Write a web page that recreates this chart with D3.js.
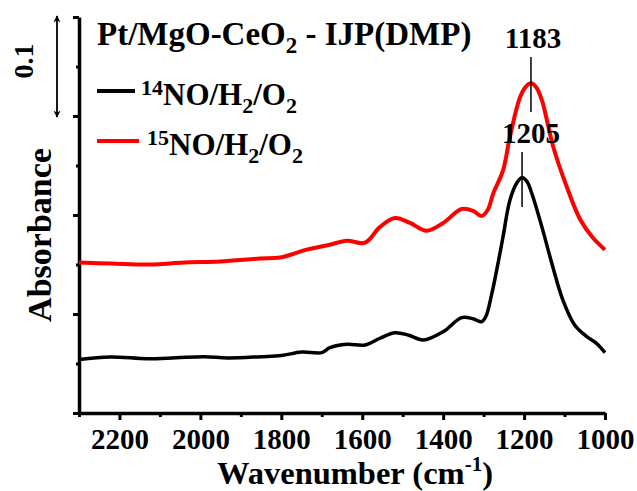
<!DOCTYPE html>
<html>
<head>
<meta charset="utf-8">
<script src="https://cdn.jsdelivr.net/npm/d3@7"></script>
<style>
  html, body { margin: 0; padding: 0; background: #fff; }
  svg text { font-family: "Liberation Serif", "Times New Roman", serif; font-weight: bold; fill: #000; }
</style>
</head>
<body>
<svg id="chart" width="637" height="491"></svg>
<script>
// In situ DRIFT spectra, Pt/MgO-CeO2 catalyst under NO/H2/O2
const wn14 = [2300, 2223, 2132, 2060, 1991, 1932, 1850, 1800, 1750, 1700, 1680, 1638, 1593, 1556, 1519, 1485, 1449, 1400, 1354, 1325, 1305, 1295, 1280, 1265, 1252, 1235, 1217, 1205, 1193, 1181, 1156, 1132, 1104, 1075, 1045, 1020, 1000];
const abs14 = [0.054, 0.0566, 0.0548, 0.0558, 0.0569, 0.0556, 0.0569, 0.058, 0.0616, 0.061, 0.066, 0.0694, 0.0687, 0.0755, 0.0811, 0.0785, 0.0737, 0.0821, 0.0963, 0.095, 0.0922, 0.097, 0.12, 0.15, 0.178, 0.215, 0.233, 0.238, 0.234, 0.222, 0.188, 0.152, 0.114, 0.0889, 0.0771, 0.070, 0.0609];

const wn15 = [2300, 2220, 2125, 2040, 1951, 1853, 1803, 1737, 1680, 1638, 1593, 1556, 1519, 1482, 1441, 1400, 1354, 1325, 1305, 1290, 1276, 1252, 1235, 1210, 1195, 1183, 1170, 1156, 1128, 1095, 1062, 1030, 1000];
const abs15 = [0.152, 0.151, 0.150, 0.152, 0.153, 0.156, 0.157, 0.165, 0.170, 0.174, 0.172, 0.188, 0.197, 0.192, 0.184, 0.192, 0.206, 0.204, 0.199, 0.205, 0.222, 0.245, 0.279, 0.319, 0.330, 0.333, 0.329, 0.316, 0.269, 0.229, 0.196, 0.177, 0.165];

const xMajorTicks = [2200, 2000, 1800, 1600, 1400, 1200, 1000];
const xMinorTicks = [2300, 2100, 1900, 1700, 1500, 1300, 1100];
const yMajorTicks = [0, 0.1, 0.2, 0.3, 0.4];
const yMinorTicks = [0.05, 0.15, 0.25, 0.35];

const peakLabels = ["1183", "1205"];
const peakWn = [1183, 1205];
const peakAbs = [0.333, 0.238];

const svg = d3.select("#chart");

const x = d3.scaleLinear().domain([2300, 1000]).range([79, 605]);
const y = d3.scaleLinear().domain([0, 0.4]).range([413, 17]);

// x axis: minor ticks first, then labelled major ticks
svg.append("g")
  .attr("transform", `translate(0,${y(0)})`)
  .call(d3.axisBottom(x).tickValues(xMinorTicks).tickSize(4).tickSizeOuter(0).tickFormat(""))
  .call(g => g.select(".domain").remove())
  .call(g => g.selectAll("line").attr("stroke", "#000").attr("stroke-width", 3));

const xAxis = svg.append("g")
  .attr("transform", `translate(0,${y(0)})`)
  .call(d3.axisBottom(x).tickValues(xMajorTicks).tickSize(7).tickSizeOuter(0).tickPadding(8).tickFormat(d3.format("d")));
xAxis.select(".domain").attr("stroke", "#000").attr("stroke-width", 3.5);
xAxis.selectAll("line").attr("stroke", "#000").attr("stroke-width", 3);
xAxis.selectAll("text").attr("font-size", 29).attr("font-family", null);

// y axis without labels
svg.append("g")
  .attr("transform", `translate(${x(2300)},0)`)
  .call(d3.axisLeft(y).tickValues(yMinorTicks).tickSize(3).tickSizeOuter(0).tickFormat(""))
  .call(g => g.select(".domain").remove())
  .call(g => g.selectAll("line").attr("stroke", "#000").attr("stroke-width", 3));

const yAxis = svg.append("g")
  .attr("transform", `translate(${x(2300)},0)`)
  .call(d3.axisLeft(y).tickValues(yMajorTicks).tickSize(6).tickSizeOuter(0).tickFormat(""));
yAxis.select(".domain").attr("stroke", "#000").attr("stroke-width", 3.5);
yAxis.selectAll("line").attr("stroke", "#000").attr("stroke-width", 3);

// spectra
const line = d3.line()
  .x(d => x(d[0]))
  .y(d => y(d[1]))
  .curve(d3.curveCatmullRom.alpha(0.5));

svg.append("path")
  .datum(d3.zip(wn14, abs14))
  .attr("d", line)
  .attr("fill", "none")
  .attr("stroke", "#000")
  .attr("stroke-width", 3.5)
  .attr("stroke-linejoin", "round");

svg.append("path")
  .datum(d3.zip(wn15, abs15))
  .attr("d", line)
  .attr("fill", "none")
  .attr("stroke", "#ff0000")
  .attr("stroke-width", 4)
  .attr("stroke-linejoin", "round");

// peak markers
const markerTop = [57, 152];
const markerLen = 55;
peakLabels.forEach((lab, i) => {
  const px = x(peakWn[i]);
  svg.append("line")
    .attr("x1", px).attr("x2", px)
    .attr("y1", markerTop[i]).attr("y2", markerTop[i] + markerLen)
    .attr("stroke", "#000").attr("stroke-width", 1.5);
  svg.append("text")
    .attr("x", px + (i === 0 ? 2 : 9))
    .attr("y", markerTop[i] - 9)
    .attr("text-anchor", "middle")
    .attr("font-size", 29)
    .text(lab);
});

// axis titles
svg.append("text")
  .attr("transform", "translate(51,235) rotate(-90)")
  .attr("text-anchor", "middle")
  .attr("font-size", 34)
  .text("Absorbance");

const xt = svg.append("text")
  .attr("x", 355).attr("y", 484)
  .attr("text-anchor", "middle")
  .attr("font-size", 32.5);
xt.append("tspan").text("Wavenumber (cm");
xt.append("tspan").attr("font-size", 21).attr("dy", -13).text("-1");
xt.append("tspan").attr("dy", 13).text(")");

// 0.1 absorbance scale bar
const defs = svg.append("defs");
defs.append("marker")
  .attr("id", "arr").attr("viewBox", "0 0 10 10")
  .attr("refX", 9).attr("refY", 5)
  .attr("markerWidth", 4).attr("markerHeight", 6)
  .attr("markerUnits", "strokeWidth")
  .attr("orient", "auto-start-reverse")
  .append("path").attr("d", "M0,0 L10,5 L0,10 L3,5 Z").attr("fill", "#000");

svg.append("line")
  .attr("x1", 57).attr("x2", 57)
  .attr("y1", y(0.4) - 1).attr("y2", y(0.3) + 1)
  .attr("stroke", "#000").attr("stroke-width", 1.8)
  .attr("marker-start", "url(#arr)").attr("marker-end", "url(#arr)");

svg.append("text")
  .attr("transform", "translate(33,61) rotate(-90)")
  .attr("text-anchor", "middle")
  .attr("font-size", 28)
  .text("0.1");

// title
const title = svg.append("text").attr("x", 97).attr("y", 45).attr("font-size", 33);
title.append("tspan").text("Pt/MgO-CeO");
title.append("tspan").attr("font-size", 23).attr("dy", 8).text("2");
title.append("tspan").attr("dy", -8).text(" - IJP(DMP)");

// legend
const legendNames = [["14", "#000", 105, 97, 135, 141], ["15", "#ff0000", 155, 97, 139, 147]];
legendNames.forEach(([iso, color, base, lx1, lx2, tx]) => {
  svg.append("line")
    .attr("x1", lx1).attr("x2", lx2)
    .attr("y1", base - 14).attr("y2", base - 14)
    .attr("stroke", color).attr("stroke-width", 4);
  const t = svg.append("text").attr("x", tx).attr("y", base).attr("font-size", 31);
  t.append("tspan").attr("font-size", 22).attr("dy", -10).text(iso);
  t.append("tspan").attr("dy", 10).text("NO/H");
  t.append("tspan").attr("font-size", 22).attr("dy", 8).text("2");
  t.append("tspan").attr("dy", -8).text("/O");
  t.append("tspan").attr("font-size", 22).attr("dy", 8).text("2");
});
</script>
</body>
</html>
